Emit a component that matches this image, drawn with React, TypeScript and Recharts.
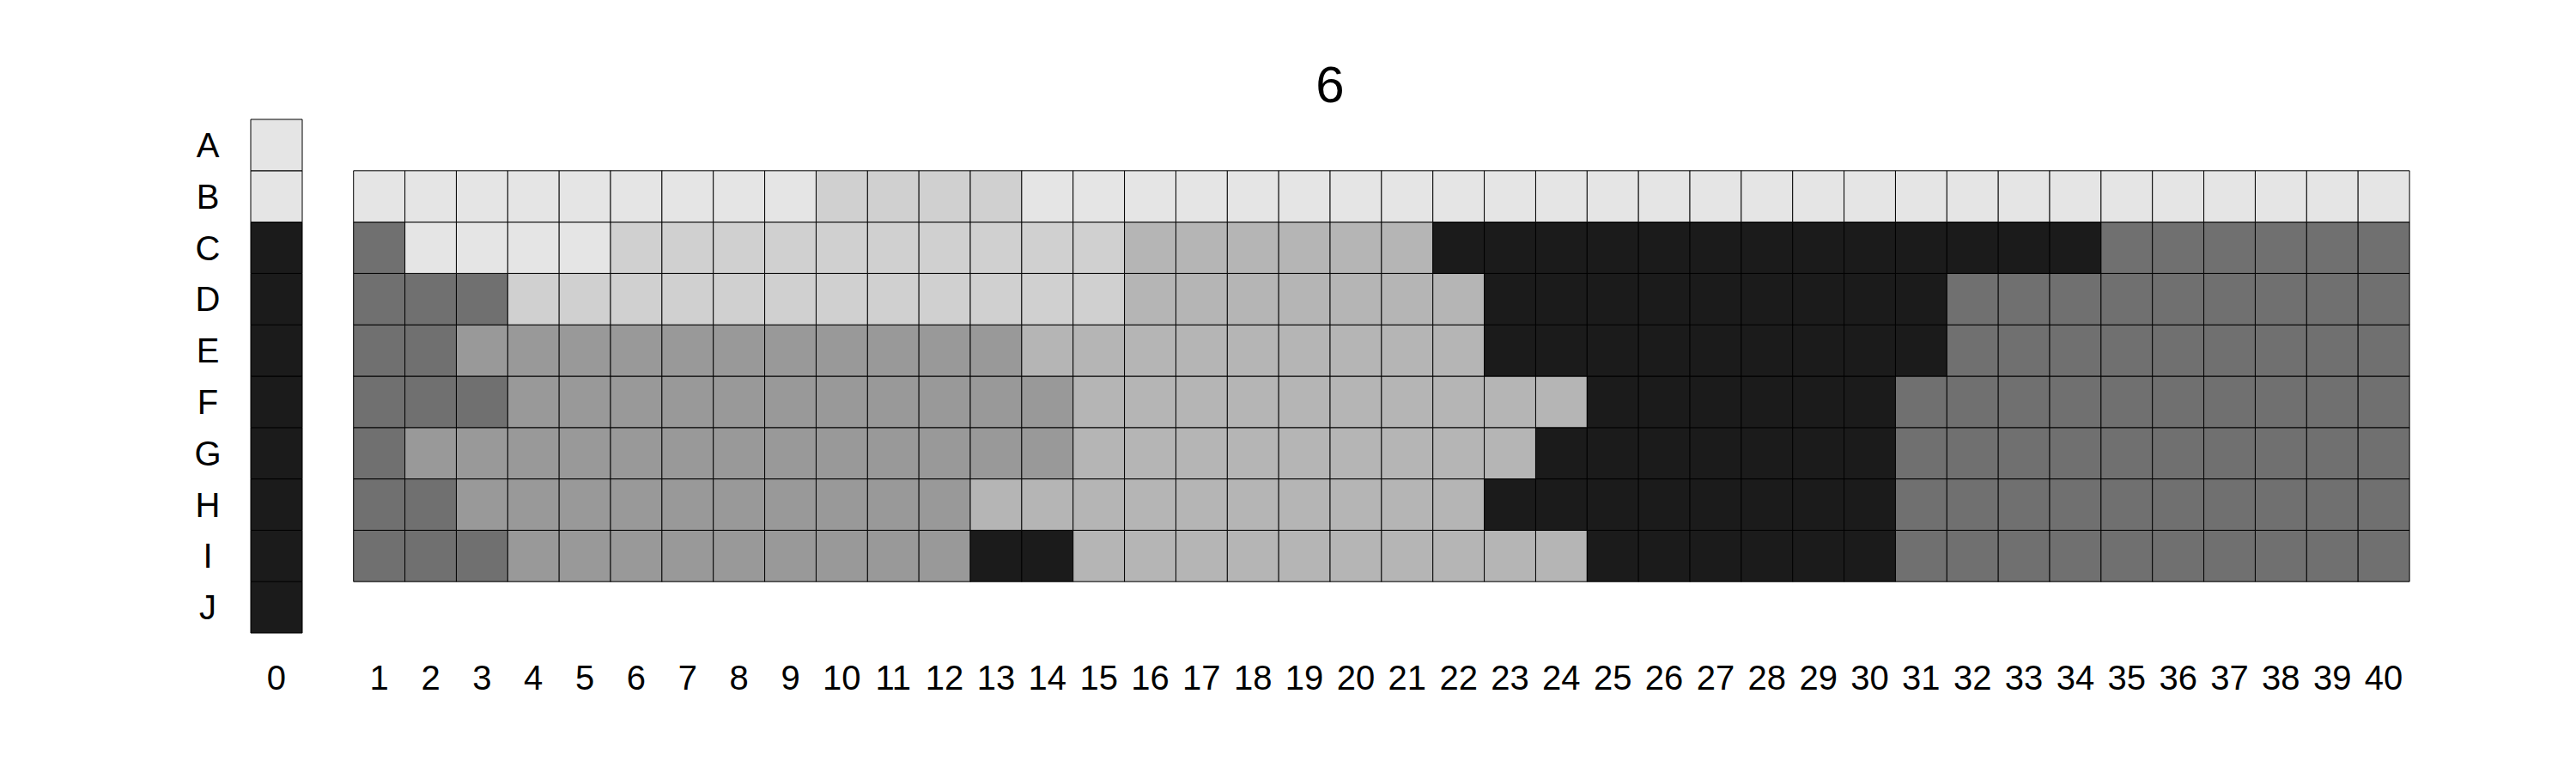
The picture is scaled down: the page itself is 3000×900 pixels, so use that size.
import React from "react";
import { BarChart, Bar, Cell, XAxis, YAxis } from "recharts";

// grey levels used by the cells, lightest to darkest
const SHADES = ["#e5e5e5", "#d0d0d0", "#b5b5b5", "#999999", "#707070", "#1b1b1b"];

const rowLabels = ["A", "B", "C", "D", "E", "F", "G", "H", "I", "J"];
const colLabels = [
  "1", "2", "3", "4", "5", "6", "7", "8", "9", "10",
  "11", "12", "13", "14", "15", "16", "17", "18", "19", "20",
  "21", "22", "23", "24", "25", "26", "27", "28", "29", "30",
  "31", "32", "33", "34", "35", "36", "37", "38", "39", "40",
];

// column 0, rows A..J
const column0 = [0, 0, 5, 5, 5, 5, 5, 5, 5, 5];

// columns 1..40 for rows B..I
const rowB = [0, 0, 0, 0, 0, 0, 0, 0, 0, 1, 1, 1, 1, 0, 0, 0, 0, 0, 0, 0, 0, 0, 0, 0, 0, 0, 0, 0, 0, 0, 0, 0, 0, 0, 0, 0, 0, 0, 0, 0];
const rowC = [4, 0, 0, 0, 0, 1, 1, 1, 1, 1, 1, 1, 1, 1, 1, 2, 2, 2, 2, 2, 2, 5, 5, 5, 5, 5, 5, 5, 5, 5, 5, 5, 5, 5, 4, 4, 4, 4, 4, 4];
const rowD = [4, 4, 4, 1, 1, 1, 1, 1, 1, 1, 1, 1, 1, 1, 1, 2, 2, 2, 2, 2, 2, 2, 5, 5, 5, 5, 5, 5, 5, 5, 5, 4, 4, 4, 4, 4, 4, 4, 4, 4];
const rowE = [4, 4, 3, 3, 3, 3, 3, 3, 3, 3, 3, 3, 3, 2, 2, 2, 2, 2, 2, 2, 2, 2, 5, 5, 5, 5, 5, 5, 5, 5, 5, 4, 4, 4, 4, 4, 4, 4, 4, 4];
const rowF = [4, 4, 4, 3, 3, 3, 3, 3, 3, 3, 3, 3, 3, 3, 2, 2, 2, 2, 2, 2, 2, 2, 2, 2, 5, 5, 5, 5, 5, 5, 4, 4, 4, 4, 4, 4, 4, 4, 4, 4];
const rowG = [4, 3, 3, 3, 3, 3, 3, 3, 3, 3, 3, 3, 3, 3, 2, 2, 2, 2, 2, 2, 2, 2, 2, 5, 5, 5, 5, 5, 5, 5, 4, 4, 4, 4, 4, 4, 4, 4, 4, 4];
const rowH = [4, 4, 3, 3, 3, 3, 3, 3, 3, 3, 3, 3, 2, 2, 2, 2, 2, 2, 2, 2, 2, 2, 5, 5, 5, 5, 5, 5, 5, 5, 4, 4, 4, 4, 4, 4, 4, 4, 4, 4];
const rowI = [4, 4, 4, 3, 3, 3, 3, 3, 3, 3, 3, 3, 5, 5, 2, 2, 2, 2, 2, 2, 2, 2, 2, 2, 5, 5, 5, 5, 5, 5, 4, 4, 4, 4, 4, 4, 4, 4, 4, 4];

const gridRows: Record<string, number[]> = {
  B: rowB, C: rowC, D: rowD, E: rowE, F: rowF, G: rowG, H: rowH, I: rowI,
};

type Entry = { col: string; [row: string]: number | null | string };

const makeEntry = (col: string, pick: (row: string, r: number) => number | null): Entry => {
  const e: Entry = { col };
  rowLabels.forEach((row, r) => {
    e[row] = pick(row, r);
  });
  return e;
};

const data: Entry[] = [
  makeEntry("0", (_row, r) => column0[r]),
  makeEntry("", () => null), // empty slot between column 0 and the grid
  ...colLabels.map((label, i) =>
    makeEntry(label, (row) => (gridRows[row] ? gridRows[row][i] : null))
  ),
];

const FONT = '"Liberation Sans", Arial, Helvetica, sans-serif';

const XTick = (props: any) => {
  const { x, y, payload } = props;
  return (
    <text x={x} y={y + 52} textAnchor="middle" dominantBaseline="central" fontSize={40} fill="#000" fontFamily={FONT}>
      {payload.value}
    </text>
  );
};

const YTick = (props: any) => {
  const { x, y, payload } = props;
  const label = rowLabels[9 - Math.floor(payload.value)];
  return (
    <text x={x - 50} y={y} textAnchor="middle" dominantBaseline="central" fontSize={40} fill="#000" fontFamily={FONT}>
      {label}
    </text>
  );
};

const App: React.FC = () => {
  // stack from the bottom row (J) up to A
  const stackOrder = [...rowLabels].reverse();
  return (
    <div style={{ position: "relative", width: 2984, height: 880, fontFamily: FONT }}>
      <div
        style={{
          position: "absolute",
          left: 284,
          width: 2514,
          top: 61,
          fontSize: 60,
          lineHeight: "60px",
          textAlign: "center",
          color: "#000",
        }}
      >
        6
      </div>
      <BarChart
        width={2984}
        height={880}
        data={data}
        margin={{ top: 131, right: 186, left: 184, bottom: 51 }}
        barCategoryGap={0}
        barGap={0}
      >
        <XAxis
          dataKey="col"
          type="category"
          interval={0}
          height={100}
          tickLine={false}
          axisLine={false}
          tickSize={0}
          tickMargin={0}
          tick={<XTick />}
        />
        <YAxis
          type="number"
          domain={[0, 10]}
          ticks={[0.5, 1.5, 2.5, 3.5, 4.5, 5.5, 6.5, 7.5, 8.5, 9.5]}
          width={100}
          tickLine={false}
          axisLine={false}
          tickSize={0}
          tickMargin={0}
          tick={<YTick />}
        />
        {stackOrder.map((row) => (
          <Bar key={row} dataKey={() => 1} name={row} stackId="grid" isAnimationActive={false}>
            {data.map((d, i) => {
              const v = d[row] as number | null;
              return (
                <Cell
                  key={`${row}-${i}`}
                  fill={v == null ? "none" : SHADES[v]}
                  stroke={v == null ? "none" : "#000"}
                  strokeWidth={1}
                />
              );
            })}
          </Bar>
        ))}
      </BarChart>
    </div>
  );
};

export default App;
